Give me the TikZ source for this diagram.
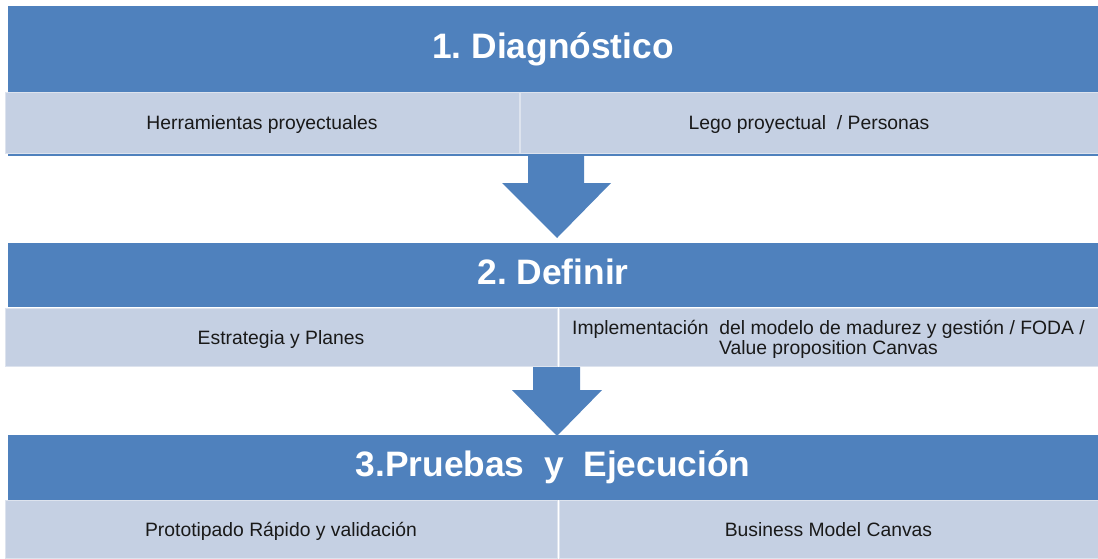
\documentclass[tikz,border=0pt]{standalone}
\usepackage{fontspec}
\setmainfont{Liberation Sans}
\frenchspacing
\definecolor{hdrblue}{HTML}{4F81BD}
\definecolor{subfill}{HTML}{C5D0E3}
\definecolor{subline}{HTML}{DDE3EE}
\tikzset{
  hdr/.style={anchor=north west, fill=hdrblue, inner sep=0pt, outer sep=0pt,
    text=white, text height=19pt, text depth=5pt,
    font=\fontsize{26.5}{30}\selectfont\bfseries},
  sub/.style={anchor=north west, fill=subfill, draw=subline, line width=0.75pt,
    inner sep=0pt, outer sep=0pt, text=black!90, text height=13.5pt, text depth=3pt,
    font=\fontsize{14.5}{15}\selectfont},
}
\begin{document}
\begin{tikzpicture}[x=0.75pt, y=-0.75pt]
  \useasboundingbox (0,0) rectangle (1098,558);
  \fill[hdrblue] (8,92) rectangle (1098,156);
  \node[hdr, minimum width=817.5pt, minimum height=64.5pt] (diag) at (8,6) {1. Diagnóstico};
  \node[sub, minimum width=385.5pt, minimum height=45.75pt] (herr) at (5,92) {Herramientas proyectuales};
  \node[sub, minimum width=433.5pt, minimum height=45.75pt] (lego) at (520,92) {Lego proyectual \ / Personas};
  \node[hdr, minimum width=817.5pt, minimum height=48pt] (defi) at (8,243) {2. Definir};
  \node[sub, minimum width=414pt, minimum height=43.5pt] (estr) at (5,308) {Estrategia y Planes};
  \node[sub, minimum width=404.25pt, minimum height=43.5pt, text height=, text depth=, align=center] (impl) at (559,308)
    {\rule{0pt}{13.5pt}Implementación \ del modelo de madurez y gestión / FODA /\\Value proposition Canvas};
  \node[hdr, minimum width=817.5pt, minimum height=48.75pt] (prue) at (8,435) {3.Pruebas \ y \ Ejecución};
  \node[sub, minimum width=414pt, minimum height=43.5pt] (prot) at (5,500) {Prototipado Rápido y validación};
  \node[sub, minimum width=404.25pt, minimum height=43.5pt] (busi) at (559,500) {Business Model Canvas};
  \begin{scope}[hdrblue]
    \fill (528,154) -- (584,154) -- (584,183) -- (611,183) -- (557,238)
      -- (502,183) -- (528,183) -- cycle;
    \fill (533,367) -- (580,367) -- (580,390) -- (602,390) -- (557,436)
      -- (512,390) -- (533,390) -- cycle;
  \end{scope}
\end{tikzpicture}
\end{document}
